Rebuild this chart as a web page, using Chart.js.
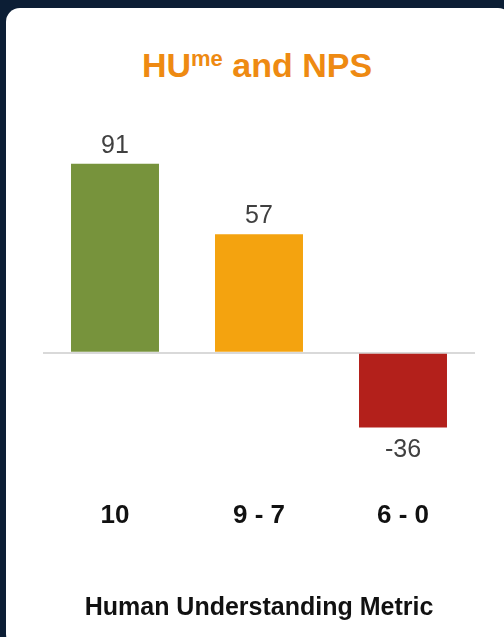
<!DOCTYPE html>
<html>
<head>
<meta charset="utf-8">
<script src="https://cdn.jsdelivr.net/npm/chart.js@4"></script>
<style>
  html, body { margin: 0; padding: 0; width: 504px; height: 637px; overflow: hidden; background: #0c1e35; }
  #card { position: absolute; left: 6px; top: 8px; width: 506px; height: 640px; background: #ffffff; border-radius: 14px; }
  #title { position: absolute; left: 0; top: 45px; width: 514px; text-align: center; font-family: "Liberation Sans", Arial, sans-serif; font-weight: bold; font-size: 34px; line-height: 40px; color: #ee8a12; white-space: nowrap; }
  #title sup { font-size: 22px; position: relative; top: -11px; vertical-align: baseline; line-height: 0; }
  canvas { position: absolute; left: 0; top: 0; }
</style>
</head>
<body>
<div id="card"></div>
<div id="title">HU<sup>me</sup> and NPS</div>
<canvas id="c" width="504" height="637"></canvas>
<script>
const categories = ["10", "9 - 7", "6 - 0"];
const npsValues = [91, 57, -36];
const barColors = ["#77933c", "#f4a30f", "#b3201b"];
const axisTitle = "Human Understanding Metric";

const valueLabels = {
  id: "valueLabels",
  afterDatasetsDraw(chart) {
    const ctx = chart.ctx;
    const meta = chart.getDatasetMeta(0);
    ctx.save();
    ctx.font = "25px 'Liberation Sans', Arial, sans-serif";
    ctx.fillStyle = "#404040";
    ctx.textAlign = "center";
    ctx.textBaseline = "middle";
    meta.data.forEach((bar, i) => {
      const v = chart.data.datasets[0].data[i];
      const y = v >= 0 ? bar.y - 18 : bar.y + 23;
      ctx.fillText(String(v), bar.x, y);
    });
    ctx.restore();
  }
};

new Chart(document.getElementById("c"), {
  type: "bar",
  data: {
    labels: categories,
    datasets: [{
      data: npsValues,
      backgroundColor: barColors,
      borderWidth: 0,
      categoryPercentage: 1,
      barPercentage: 0.611
    }]
  },
  options: {
    responsive: false,
    animation: false,
    devicePixelRatio: 1,
    layout: { padding: { top: 145, left: 43, right: 29, bottom: 10 } },
    plugins: { legend: { display: false }, tooltip: { enabled: false }, title: { display: false } },
    scales: {
      x: {
        grid: { display: false, drawTicks: false },
        border: { display: false },
        ticks: { color: "#111111", padding: 12, font: { family: "'Liberation Sans', Arial, sans-serif", size: 26, weight: "bold" } },
        title: { display: true, text: axisTitle, color: "#111111", padding: { top: 50, bottom: 4 }, font: { family: "'Liberation Sans', Arial, sans-serif", size: 25, weight: "bold" } }
      },
      y: {
        min: -65,
        max: 100,
        ticks: { display: false, stepSize: 5 },
        border: { display: false },
        grid: {
          drawTicks: false,
          lineWidth: 2,
          color: (c) => (c.tick && c.tick.value === 0 ? "#d9d9d9" : "rgba(0,0,0,0)")
        }
      }
    }
  },
  plugins: [valueLabels]
});
</script>
</body>
</html>
